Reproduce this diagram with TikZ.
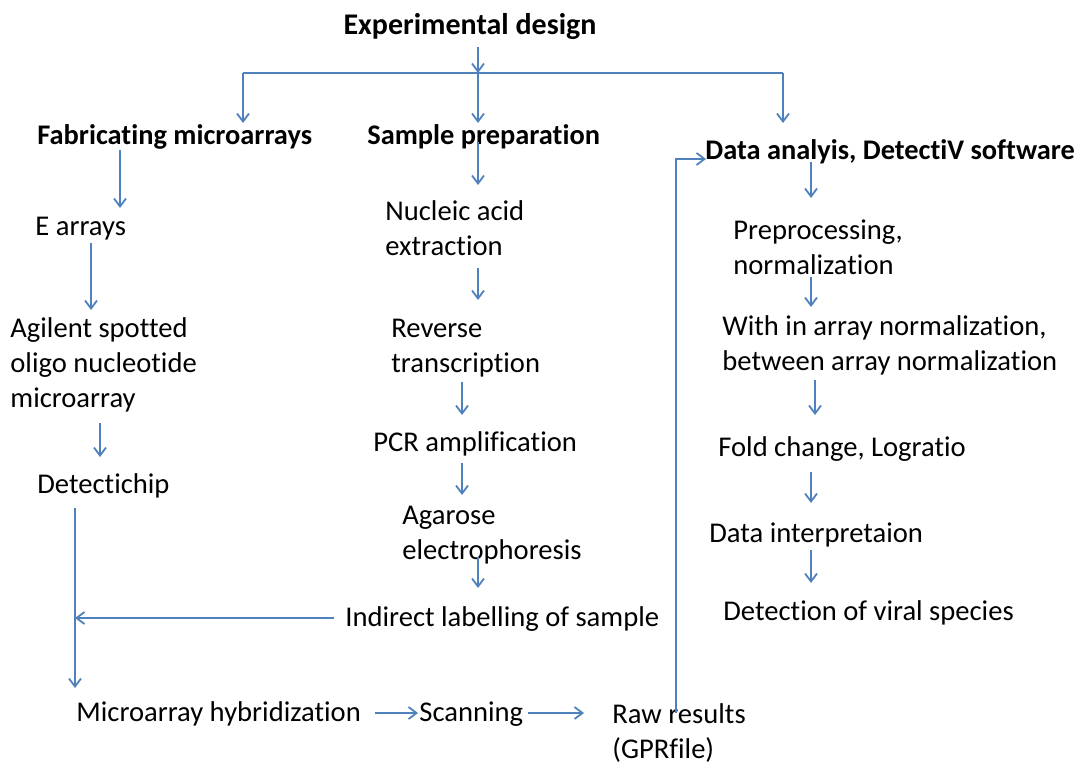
\documentclass[tikz,border=0pt]{standalone}
\usepackage{fontspec}
\setmainfont{Carlito}[Ligatures=NoCommon]
\usetikzlibrary{arrows.meta,calc}
\definecolor{officeblue}{HTML}{4F81BD}
\tikzset{
  txt/.style={anchor=west,inner sep=0pt,align=left,font=\fontsize{14.3pt}{17.5pt}\selectfont},
  hdr/.style={anchor=west,inner sep=0pt,font=\fontsize{14.2pt}{17pt}\selectfont\bfseries},
  ttl/.style={inner sep=0pt,font=\fontsize{15pt}{18pt}\selectfont\bfseries},
  ln/.style={draw=officeblue,line width=0.9pt},
  arr/.style={ln,-{Straight Barb[length=4pt,width=6pt]}}
}
\begin{document}
\begin{tikzpicture}[x=0.5pt,y=-0.5pt]
\useasboundingbox (0,0) rectangle (1077,765);
% nodes
\node[ttl] (title) at (470,27) {Experimental design};
\node[hdr] (fab)  at (37,137)  {Fabricating microarrays};
\node[hdr] (samp) at (367,137) {Sample preparation};
\node[hdr] (data) at (705,152) {Data analyis, DetectiV software};
\node[txt] (earr) at (35,229)  {E arrays};
\node[txt] (agil) at (10,365)  {Agilent spotted\\oligo nucleotide\\microarray};
\node[txt] (detc) at (37,486)  {Detectichip};
\node[txt] (nucl) at (385,228) {Nucleic acid\\extraction};
\node[txt] (rev)  at (391,348) {Reverse\\transcription};
\node[txt] (pcr)  at (373,444) {PCR amplification};
\node[txt] (agar) at (402,535) {Agarose\\electrophoresis};
\node[txt] (indl) at (345,619) {Indirect labelling of sample};
\node[txt] (mhyb) at (76,714)  {Microarray hybridization};
\node[txt] (scan) at (419,714) {Scanning};
\node[txt] (raw)  at (612,733) {Raw results\\(GPRfile)};
\node[txt] (prep) at (733,247) {Preprocessing,\\normalization};
\node[txt] (within) at (722,345) {With in array normalization,\\between array normalization};
\node[txt] (fold) at (718,449) {Fold change, Logratio};
\node[txt] (dint) at (709,535) {Data interpretaion};
\node[txt] (detv) at (723,613) {Detection of viral species};
% bus
\coordinate (bus) at ($(title)+(8,46)$);
\coordinate (bl) at (243,73);
\coordinate (br) at (783,73);
\coordinate (join) at (75,618);
\draw[arr] ($(title)+(8,20)$) -- (bus);
\draw[ln] (bl) -- (br);
\draw[arr] (bl) -- ($(fab.west)+(206,-14)$);
\draw[arr] (bus) -- ($(samp.west)+(111,-14)$);
\draw[arr] (br) -- ($(data.west)+(78,-29)$);
% left column
\draw[arr] ($(fab.west)+(83,13)$) -- ($(earr.west)+(85,-21)$);
\draw[arr] ($(earr.west)+(56,14)$) -- ($(agil.west)+(81,-55)$);
\draw[arr] ($(agil.west)+(90,58)$) -- ($(detc.west)+(63,-29)$);
\draw[arr] ($(detc.west)+(38,22)$) -- ($(mhyb.west)+(-1,-26)$);
% middle column
\draw[arr] ($(samp.west)+(111,5)$) -- ($(nucl.west)+(93,-43)$);
\draw[arr] ($(nucl.west)+(93,40)$) -- ($(rev.west)+(87,-48)$);
\draw[arr] ($(rev.west)+(71,34)$) -- ($(pcr.west)+(89,-29)$);
\draw[arr] ($(pcr.west)+(89,19)$) -- ($(agar.west)+(60,-40)$);
\draw[arr] ($(agar.west)+(76,22)$) -- ($(indl.west)+(133,-31)$);
\draw[arr] ($(indl.west)+(-11,-1)$) -- (join);
% bottom row
\draw[arr] ($(mhyb.west)+(299,-1)$) -- ($(scan.west)+(-1,-1)$);
\draw[arr] ($(scan.west)+(109,-1)$) -- ($(raw.west)+(-28,-20)$);
\draw[arr] ($(raw.west)+(64,-20)$) |- ($(data.west)+(1,7)$);
% right column
\draw[arr] ($(data.west)+(106,10)$) -- ($(prep.west)+(78,-49)$);
\draw[arr] ($(prep.west)+(78,30)$) -- ($(within.west)+(89,-38)$);
\draw[arr] ($(within.west)+(93,35)$) -- ($(fold.west)+(97,-34)$);
\draw[arr] ($(fold.west)+(93,23)$) -- ($(dint.west)+(102,-32)$);
\draw[arr] ($(dint.west)+(102,15)$) -- ($(detv.west)+(88,-30)$);
\end{tikzpicture}
\end{document}
